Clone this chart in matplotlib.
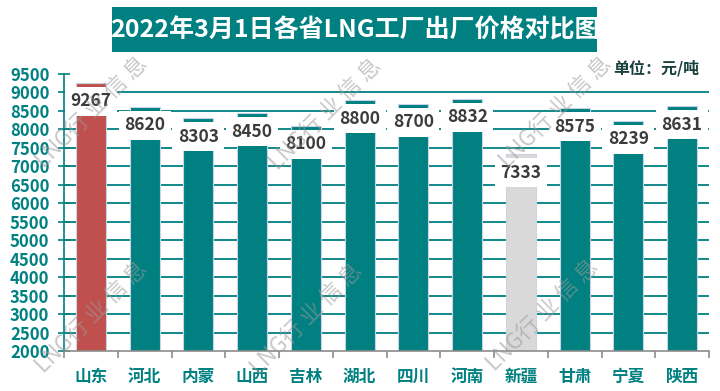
import matplotlib
matplotlib.use("Agg")
import matplotlib.pyplot as plt
from matplotlib.patches import Rectangle

plt.rcParams['font.family'] = ['Noto Sans CJK SC', 'DejaVu Sans']

categories = ['山东', '河北', '内蒙', '山西', '吉林', '湖北', '四川', '河南', '新疆', '甘肃', '宁夏', '陕西']
values = [9267, 8620, 8303, 8450, 8100, 8800, 8700, 8832, 7333, 8575, 8239, 8631]
yticks = list(range(2000, 9501, 500))
title = '2022年3月1日各省LNG工厂出厂价格对比图'
unit = '单位：元/吨'

TEAL = '#008080'
RED = '#c0504d'
GRAY = '#d9d9d9'
colors = [RED if c == '山东' else (GRAY if c == '新疆' else TEAL) for c in categories]

W, H = 720, 391
fig = plt.figure(figsize=(W / 100, H / 100), dpi=100)
fig.patch.set_facecolor('white')
ax = fig.add_axes([64 / W, 1 - 351 / H, 645 / W, 277 / H])

x = list(range(len(categories)))
ax.set_xlim(-0.5, len(categories) - 0.5)
ax.set_ylim(2000, 9500)

for y in yticks[1:-1]:
    ax.axhline(y, color=TEAL, lw=1.3, zorder=0)

ax.bar(x, values, width=0.56, color=colors, edgecolor='#c9d3e8', linewidth=0.8, zorder=2)

for i, v in enumerate(values):
    ax.annotate(str(v), xy=(i, v), xytext=(0, -7), textcoords='offset points',
                ha='center', va='top', fontsize=12.5, fontweight='bold', color='#3b3b3b',
                bbox=dict(boxstyle='square,pad=0.32', facecolor='white', edgecolor='none'),
                zorder=3)

# axes styling
for s in ['top', 'right']:
    ax.spines[s].set_visible(False)
ax.spines['left'].set_color(TEAL)
ax.spines['left'].set_linewidth(1.2)
ax.spines['bottom'].set_color('#8c8c8c')
ax.spines['bottom'].set_linewidth(1.2)

ax.set_yticks(yticks)
ax.set_yticklabels([str(t) for t in yticks], fontsize=12, fontweight='bold', color=TEAL)
ax.tick_params(axis='y', direction='inout', length=9, width=1.2, color=TEAL, pad=6)

ax.set_xticks(x)
ax.set_xticklabels(categories, fontsize=12, fontweight='bold', color=TEAL)
ax.set_xticks([i - 0.5 for i in range(len(categories) + 1)], minor=True)
ax.tick_params(axis='x', which='major', length=0, pad=12)
ax.tick_params(axis='x', which='minor', direction='out', length=5, width=1.2, color='#8c8c8c')

# watermarks
for (px, py) in [(92, 113), (326, 115), (556, 113), (92, 318), (307, 320), (543, 316)]:
    fig.text(px / W, 1 - py / H, 'LNG行 业 信 息', rotation=45, ha='center', va='center',
             fontsize=16, color='#9a9a9a', alpha=0.55, fontweight='light', zorder=10)

# title box
fig.patches.append(Rectangle((112 / W, 1 - 52 / H), 485 / W, 45 / H, transform=fig.transFigure,
                             facecolor=TEAL, edgecolor='none', zorder=5))
fig.text(354.5 / W, 1 - 30 / H, title, ha='center', va='center', fontsize=18,
         fontweight='bold', color='white', zorder=6)

fig.text(613 / W, 1 - 68 / H, unit, ha='left', va='center', fontsize=11.5,
         fontweight='bold', color='#17403f')

fig.savefig('out.png', dpi=100)
